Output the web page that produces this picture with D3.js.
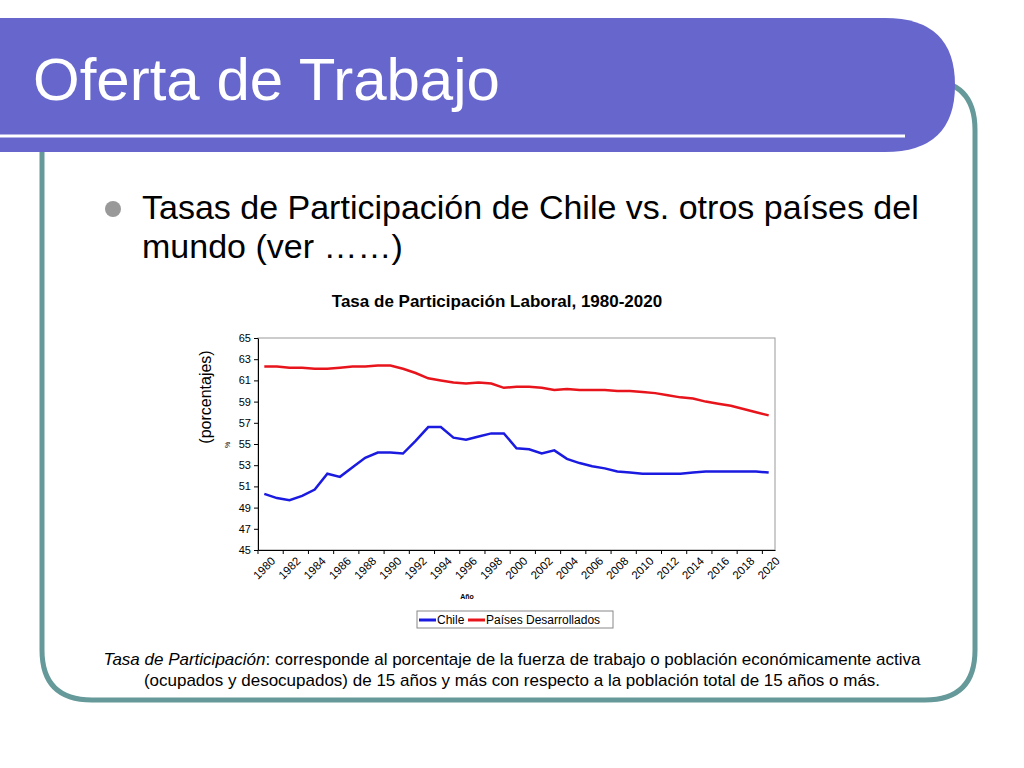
<!DOCTYPE html><html><head><meta charset="utf-8"><script src="https://cdn.jsdelivr.net/npm/d3@7"></script>
<style>body{margin:0;background:#fff}svg{display:block}</style></head><body><svg id="s" width="1024" height="768"></svg>
<script>
const years=d3.range(1980,2021);
const chile=[50.3,49.9,49.7,50.1,50.7,52.2,51.9,52.8,53.7,54.2,54.2,54.1,55.3,56.6,56.6,55.6,55.4,55.7,56.0,56.0,54.6,54.5,54.1,54.4,53.6,53.2,52.9,52.7,52.4,52.3,52.2,52.2,52.2,52.2,52.3,52.4,52.4,52.4,52.4,52.4,52.3];
const desarrollados=[62.3,62.3,62.2,62.2,62.1,62.1,62.2,62.3,62.3,62.4,62.4,62.1,61.7,61.2,61.0,60.8,60.7,60.8,60.7,60.3,60.4,60.4,60.3,60.1,60.2,60.1,60.1,60.1,60.0,60.0,59.9,59.8,59.6,59.4,59.3,59.0,58.8,58.6,58.3,58.0,57.7];
const yTicks=d3.range(45,66,2);
const svg=d3.select("#s");
svg.append("path").attr("d","M42,150 L42,650 Q42,700 92,700 L925,700 Q975,700 975,650 L975,130 Q975,80 925,80").attr("fill","none").attr("stroke","#669999").attr("stroke-width",5);
svg.append("path").attr("d","M0,18 L885,18 Q955,18 955,85 Q955,152 885,152 L0,152 Z").attr("fill","#6666cc");
svg.append("line").attr("x1",0).attr("x2",905).attr("y1",136).attr("y2",136).attr("stroke","#fff").attr("stroke-width",3);
const ff="Liberation Sans, Arial";
svg.append("text").attr("x",33).attr("y",100).attr("fill","#fff").attr("font-family",ff).attr("font-size",60).text("Oferta de Trabajo");
svg.append("circle").attr("cx",113).attr("cy",209).attr("r",8).attr("fill","#999");
svg.append("text").attr("x",142).attr("y",219).attr("font-family",ff).attr("font-size",34).text("Tasas de Participación de Chile vs. otros países del");
svg.append("text").attr("x",142).attr("y",258).attr("font-family",ff).attr("font-size",34).text("mundo (ver ……)");
svg.append("text").attr("x",497).attr("y",307).attr("text-anchor","middle").attr("font-family",ff).attr("font-size",17).attr("font-weight","bold").text("Tasa de Participación Laboral, 1980-2020");
const L=258,R=775,T=338,B=550;
const x=d3.scaleBand().domain(years).range([L,R]);
const y=d3.scaleLinear().domain([45,65]).range([B,T]);
const g=svg.append("g");
g.append("rect").attr("x",L).attr("y",T).attr("width",R-L).attr("height",B-T).attr("fill","none").attr("stroke","#999");
const ya=g.append("g").attr("transform",`translate(${L},0)`).call(d3.axisLeft(y).tickValues(yTicks).tickSize(4).tickSizeOuter(0));
ya.selectAll("text").attr("font-family",ff).attr("font-size",11);
const xa=g.append("g").attr("transform",`translate(0,${B})`).call(d3.axisBottom(x).tickValues(years.filter(v=>v%2==0)).tickSize(0));
xa.selectAll(".tick line").remove();
xa.selectAll(".tick").append("line").attr("x1",-x.bandwidth()/2).attr("x2",-x.bandwidth()/2).attr("y2",4).attr("stroke","#000");
xa.selectAll("text").attr("font-family",ff).attr("font-size",11.5).attr("text-anchor","end").attr("transform","translate(4,4) rotate(-45)").attr("dy","0.7em");
[ya,xa].forEach(a=>a.select(".domain").attr("stroke","#000"));
const line=d3.line().x((d,i)=>x(years[i])+x.bandwidth()/2).y(d=>y(d));
g.append("path").datum(desarrollados).attr("d",line).attr("fill","none").attr("stroke","#e8141c").attr("stroke-width",2.5);
g.append("path").datum(chile).attr("d",line).attr("fill","none").attr("stroke","#1a1ae0").attr("stroke-width",2.5);
svg.append("text").attr("transform","translate(211,397) rotate(-90)").attr("text-anchor","middle").attr("font-family",ff).attr("font-size",16).text("(porcentajes)");
svg.append("text").attr("transform","translate(230,445) rotate(-90)").attr("text-anchor","middle").attr("font-family",ff).attr("font-size",7).text("%");
svg.append("text").attr("x",467).attr("y",599).attr("text-anchor","middle").attr("font-family",ff).attr("font-size",7).attr("font-weight","bold").text("Año");
const lg=svg.append("g");
lg.append("rect").attr("x",417).attr("y",611).attr("width",196).attr("height",17).attr("fill","#fff").attr("stroke","#888");
lg.append("line").attr("x1",419).attr("x2",436).attr("y1",620).attr("y2",620).attr("stroke","#1a1ae0").attr("stroke-width",3);
lg.append("text").attr("x",437).attr("y",624).attr("font-family",ff).attr("font-size",12).text("Chile");
lg.append("line").attr("x1",468).attr("x2",485).attr("y1",620).attr("y2",620).attr("stroke","#e8141c").attr("stroke-width",3);
lg.append("text").attr("x",486).attr("y",624).attr("font-family",ff).attr("font-size",12).text("Países Desarrollados");
const t=svg.append("text").attr("text-anchor","middle").attr("font-family",ff).attr("font-size",17);
const l1=t.append("tspan").attr("x",512).attr("y",665);
l1.append("tspan").attr("font-style","italic").text("Tasa de Participación");
l1.append("tspan").text(": corresponde al porcentaje de la fuerza de trabajo o población económicamente activa");
t.append("tspan").attr("x",512).attr("y",686).text("(ocupados y desocupados) de 15 años y más con respecto a la población total de 15 años o más.");
</script></body></html>
